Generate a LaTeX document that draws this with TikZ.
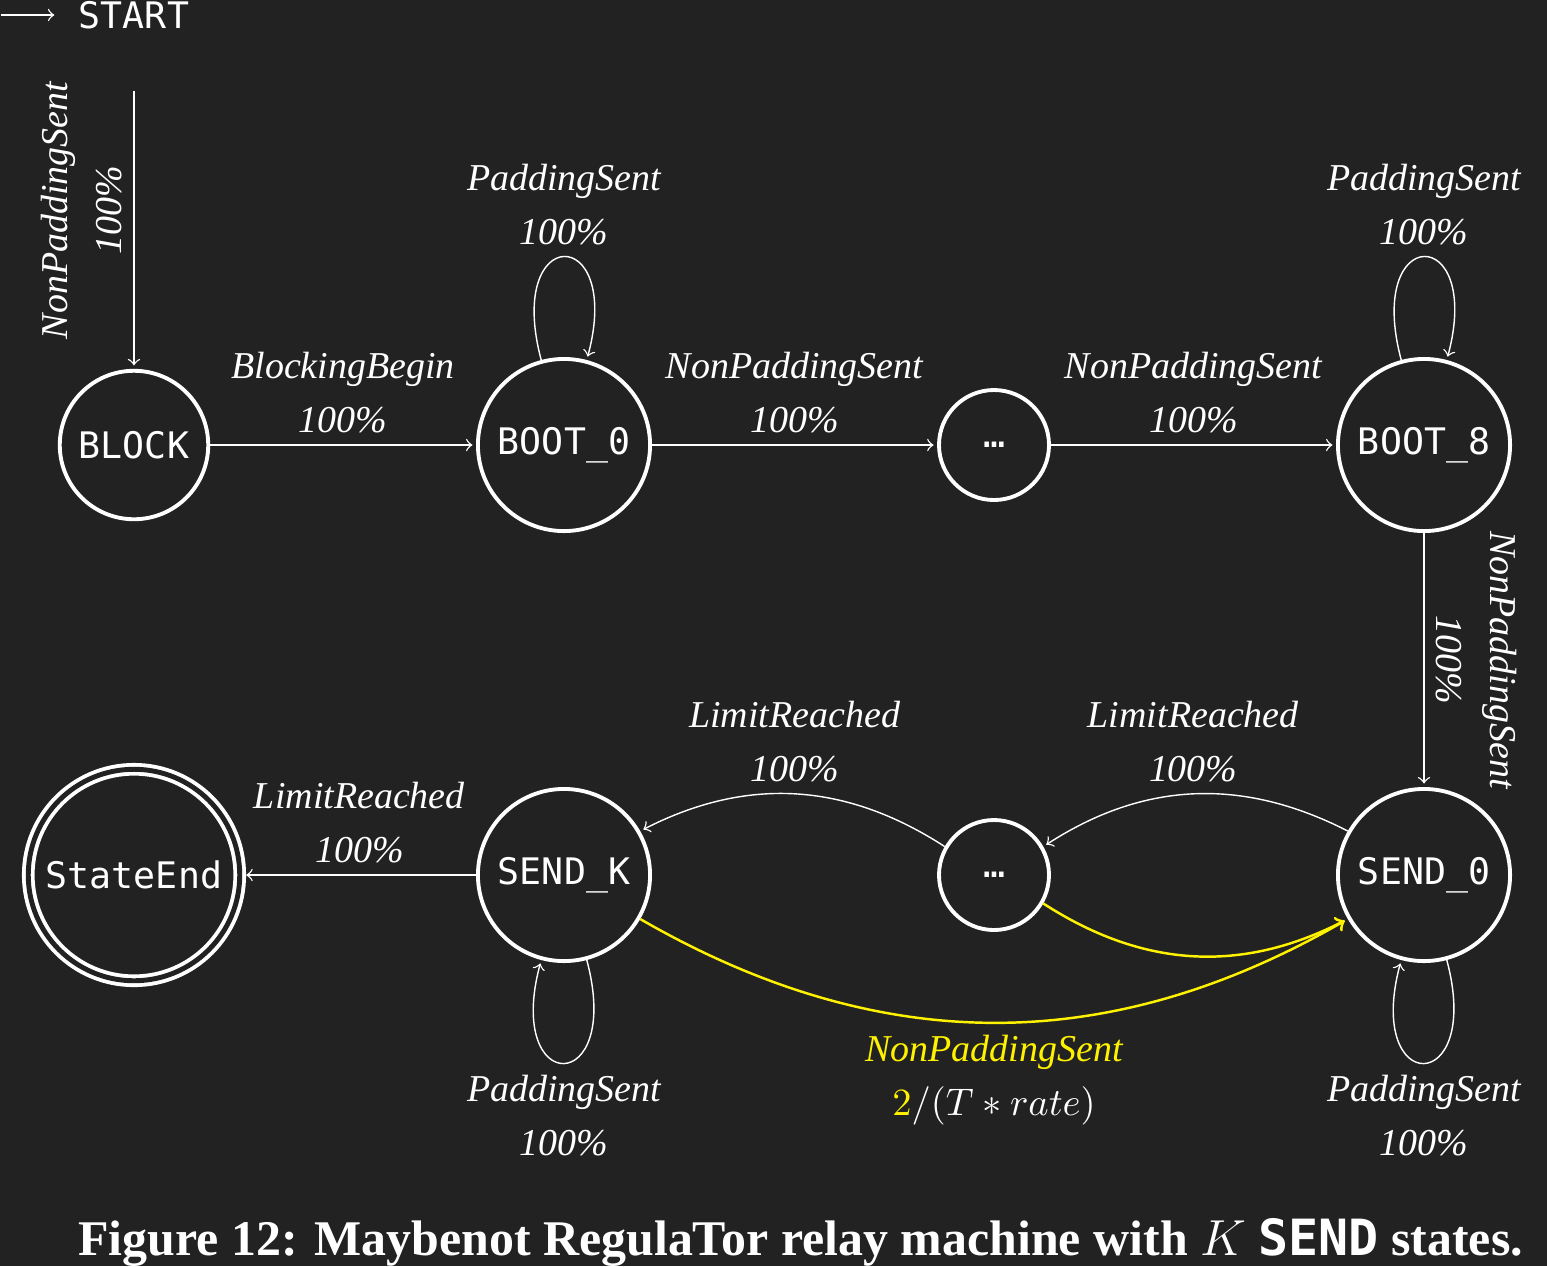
\documentclass[tikz,border=0pt]{standalone}
\usepackage{fontspec}
\setmainfont{Liberation Serif}
\setmonofont{DejaVu Sans Mono}
\usetikzlibrary{arrows,automata,positioning}
\definecolor{bg}{HTML}{222222}

\begin{document}
\begin{tikzpicture}[->, >=to, shorten >=1pt, auto, node distance=4.3cm,
                    white, align=center, font=\fontsize{10.8}{15.3}\selectfont\itshape]
    \tikzstyle{every state}=[fill=none, draw=white, text=white, line width=1.1pt,
                             inner sep=0.14cm, minimum size=1.1cm,
                             font=\fontsize{10.4}{12}\selectfont\ttfamily\upshape]

    \fill[bg, -] (0,0) rectangle (15.47,-12.66);
    \useasboundingbox (0,0) rectangle (15.47,-12.66);

    \node[state, draw=none, initial, initial text={}, initial distance=0.57cm]
                            (start) at (1.34,-0.15)  {START};
    \node[state]            (block)    [below of=start] {BLOCK};
    \node[state]            (boot0)    [right of=block] {BOOT\_0};
    \node[state]            (dotsA)    [right of=boot0] {…};
    \node[state]            (boot8)    [right of=dotsA] {BOOT\_8};
    \node[state]            (send0)    [below of=boot8] {SEND\_0};
    \node[state]            (dotsB)    [left of=send0]  {…};
    \node[state]            (sendK)    [left of=dotsB]  {SEND\_K};
    \node[state, accepting, double=bg, double distance=1.4pt]
                            (stateEnd) [left of=sendK]  {StateEnd};

    \path (start) edge [pos=0.43]   node [rotate=90, anchor=south] {NonPaddingSent\\100\%} (block);
    \path (block) edge              node [above]        {BlockingBegin\\100\%}  (boot0);
    \path (boot0) edge [loop above] node                {PaddingSent\\100\%}    (boot0);
    \path (boot0) edge              node [above]        {NonPaddingSent\\100\%} (dotsA);
    \path (dotsA) edge              node [above]        {NonPaddingSent\\100\%} (boot8);
    \path (boot8) edge [loop above] node                {PaddingSent\\100\%}    (boot8);
    \path (boot8) edge              node [sloped, above] {NonPaddingSent\\100\%} (send0);
    \path (send0) edge [loop below] node                {PaddingSent\\100\%}    (send0);
    \path (send0) edge [bend right] node [above]        {LimitReached\\100\%}   (dotsB);
    \path (dotsB) edge [bend right] node [above]        {LimitReached\\100\%}   (sendK);
    \path (sendK) edge [loop below] node                {PaddingSent\\100\%}    (sendK);
    \path (sendK) edge              node [above]        {LimitReached\\100\%}   (stateEnd);
    \path (dotsB) edge [bend right, yellow, line width=0.7pt] (send0);
    \path (sendK) edge [bend right, yellow, line width=0.7pt]
          node [below, white] {\textcolor{yellow}{NonPaddingSent}\\$\textcolor{yellow}{2}/(T \ast rate)$} (send0);

    \node[anchor=base west, font=\fontsize{14.2}{16}\selectfont\bfseries\upshape]
          (caption) at (0.66,-12.55) {Figure 12: Maybenot RegulaTor relay machine with $K$ \texttt{SEND} states.};
\end{tikzpicture}
\end{document}
